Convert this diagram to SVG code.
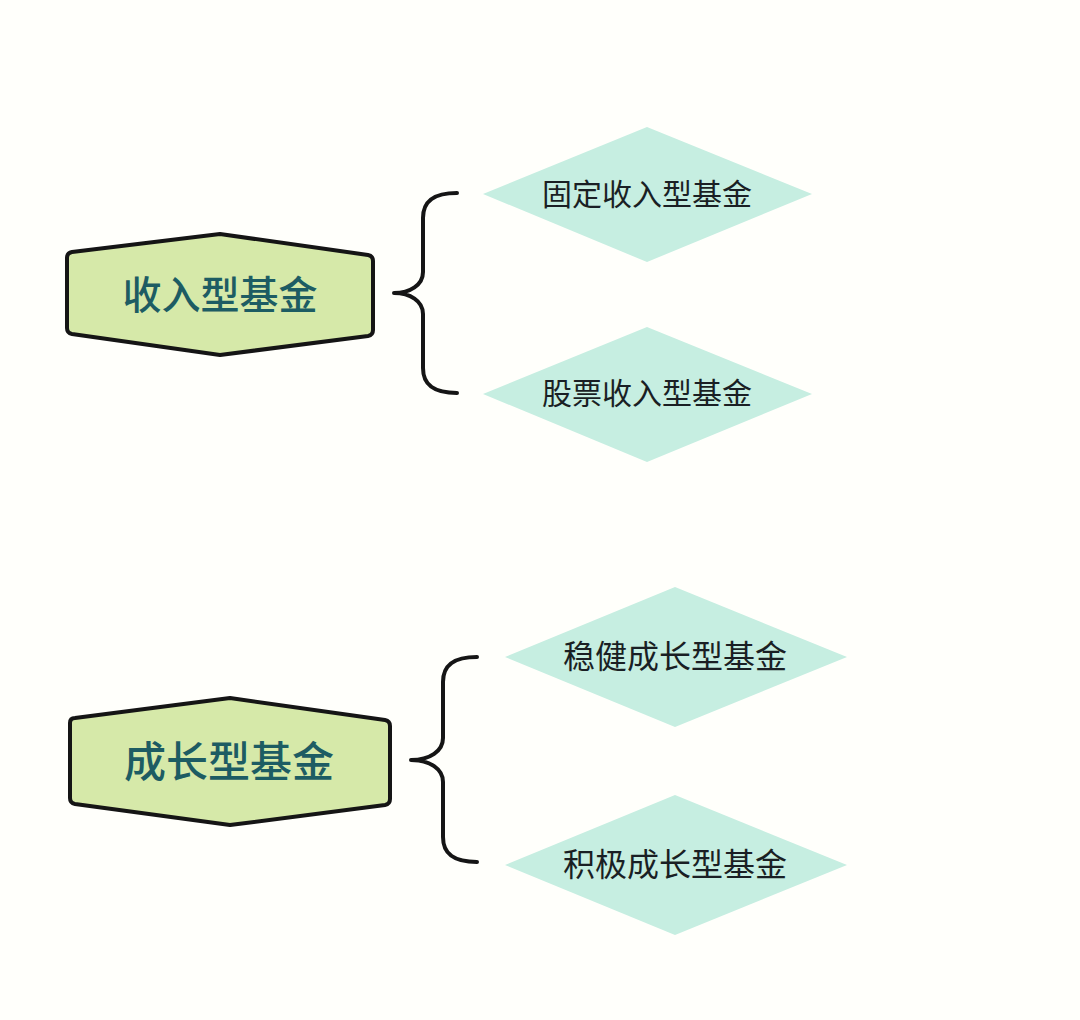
<svg xmlns="http://www.w3.org/2000/svg" width="1080" height="1020" viewBox="0 0 1080 1020">
<style>
.hex{fill:#d6e9a9;stroke:#151515;stroke-width:4;stroke-linejoin:round}
.dia{fill:#c6eee1}
.brace{fill:none;stroke:#151515;stroke-width:4;stroke-linecap:round;stroke-linejoin:round}
.ht{font-family:"Noto Sans CJK SC","Noto Sans",sans-serif;font-weight:500;fill:#1d5c63;text-anchor:middle}
.dt{font-family:"Noto Sans CJK SC","Noto Sans",sans-serif;fill:#1a1f24;text-anchor:middle}
</style>
<rect width="1080" height="1020" fill="#fffffb"/>
<g id="connectors">
<path class="brace" d="M457,193 C435,193 423,200 423,218 L423,272 C423,285 410,293 394,293 C410,293 423,301 423,314 L423,368 C423,386 435,393 457,393"/>
<path class="brace" d="M477,657 C455,657 443,664 443,682 L443,738 C443,751 430,760 411,760 C430,760 443,769 443,782 L443,837 C443,855 455,862 477,862"/>
</g>
<g id="n-income">
<path class="hex" d="M72,252 L220,234 L368,255 Q373,256 373,261 L373,330 Q373,335 368,336 L220,355 L72,334 Q67,333 67,328 L67,258 Q67,253 72,252 Z"/>
<text class="ht" x="220" y="309" font-size="39">收入型基金</text>
</g>
<g id="n-growth">
<path class="hex" d="M75,718 L230,698 L385,720 Q390,721 390,726 L390,799 Q390,804 385,805 L230,825 L75,804 Q70,803 70,798 L70,723 Q70,718 75,718 Z"/>
<text class="ht" x="229" y="777" font-size="42">成长型基金</text>
</g>
<g id="n-fixed">
<polygon class="dia" points="483,194 647,127 812,194 647,262"/>
<text class="dt" x="647" y="205" font-size="30">固定收入型基金</text>
</g>
<g id="n-stock">
<polygon class="dia" points="483,394 647,327 812,394 647,462"/>
<text class="dt" x="647" y="404" font-size="30">股票收入型基金</text>
</g>
<g id="n-steady">
<polygon class="dia" points="505,657 675,587 847,657 675,727"/>
<text class="dt" x="675" y="668" font-size="32">稳健成长型基金</text>
</g>
<g id="n-active">
<polygon class="dia" points="505,865 675,795 847,865 675,935"/>
<text class="dt" x="675" y="876" font-size="32">积极成长型基金</text>
</g>
</svg>
